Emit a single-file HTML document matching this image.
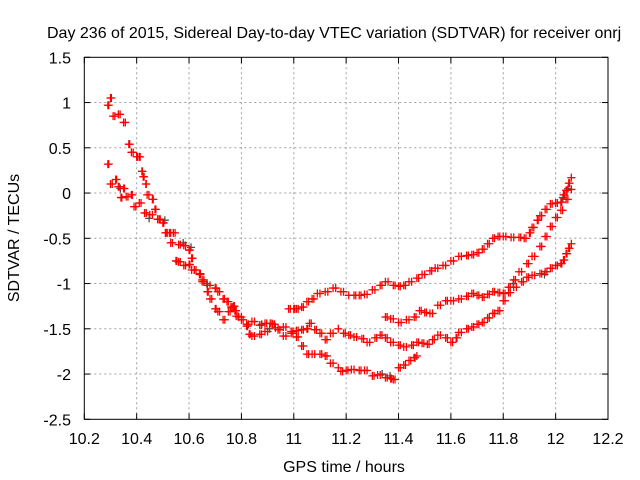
<!DOCTYPE html>
<html><head><meta charset="utf-8"><style>
html,body{margin:0;padding:0;background:#fff;width:640px;height:480px;overflow:hidden}
svg{display:block;font-family:"Liberation Sans",sans-serif}
</style></head><body>
<svg id="chart" width="640" height="480">
<text x="47" y="38" font-size="16">Day 236 of 2015, Sidereal Day-to-day VTEC variation (SDTVAR) for receiver onrj</text>
<text transform="translate(19,238) rotate(-90)" text-anchor="middle" font-size="16">SDTVAR / TECUs</text>
<text x="344" y="472" text-anchor="middle" font-size="16">GPS time / hours</text>
<g id="grid"></g>
<g id="ticks"></g>
<g id="marks"></g>
<rect x="84.3" y="57.3" width="523.7" height="362" fill="none" stroke="#000" stroke-width="1"/>
</svg>
<script>
const xTicks=[10.2,10.4,10.6,10.8,11,11.2,11.4,11.6,11.8,12,12.2];
const xTickLabels=["10.2","10.4","10.6","10.8","11","11.2","11.4","11.6","11.8","12","12.2"];
const yTicks=[1.5,1,0.5,0,-0.5,-1,-1.5,-2,-2.5];
const yTickLabels=["1.5","1","0.5","0","-0.5","-1","-1.5","-2","-2.5"];
const trackAx=[10.29,10.30,10.31,10.33,10.35,10.37,10.38,10.40,10.41,10.42,10.425,10.435,10.44,10.46,10.47,10.48,10.5,10.51,10.525,10.54,10.56,10.58,10.6,10.61,10.62,10.64,10.65,10.67,10.7,10.71,10.73,10.745,10.76,10.775,10.79,10.82,10.84,10.87,10.89,10.91,10.93,10.96,10.99,11.01,11.03,11.05,11.07,11.1,11.12,11.14,11.17];
const trackAy=[0.97,1.05,0.85,0.87,0.78,0.54,0.45,0.4,0.4,0.24,0.18,0.1,-0.02,-0.07,-0.18,-0.29,-0.33,-0.44,-0.44,-0.44,-0.57,-0.58,-0.63,-0.72,-0.85,-0.89,-0.96,-1.02,-1.05,-1.09,-1.17,-1.2,-1.26,-1.3,-1.37,-1.45,-1.42,-1.46,-1.44,-1.44,-1.49,-1.48,-1.55,-1.59,-1.69,-1.78,-1.78,-1.78,-1.8,-1.88,-1.93];
const trackBx=[10.29,10.3,10.32,10.33,10.34,10.35,10.36,10.38,10.39,10.41,10.43,10.45,10.48,10.51,10.53,10.55,10.56,10.58,10.6,10.61,10.64,10.65,10.67,10.68,10.7,10.71,10.73,10.75,10.77,10.78,10.8,10.82,10.83,10.84,10.87,10.89,10.92,10.94,10.96,10.99,11.01,11.03,11.05,11.06,11.08,11.1,11.12,11.14,11.17];
const trackBy=[0.32,0.1,0.15,0.07,-0.05,0.05,-0.04,-0.02,-0.15,-0.11,-0.22,-0.24,-0.29,-0.44,-0.55,-0.75,-0.76,-0.8,-0.79,-0.85,-0.9,-0.98,-1.09,-1.17,-1.28,-1.31,-1.4,-1.31,-1.25,-1.36,-1.4,-1.47,-1.56,-1.58,-1.56,-1.53,-1.45,-1.51,-1.58,-1.53,-1.52,-1.51,-1.5,-1.44,-1.51,-1.55,-1.62,-1.55,-1.5];
const trackCx=[10.98,11.0,11.01,11.03,11.05,11.07,11.09,11.12,11.15,11.18,11.21];
const trackCy=[-1.28,-1.28,-1.28,-1.26,-1.2,-1.17,-1.11,-1.09,-1.05,-1.09,-1.13];
const t1x=[11.23,11.25,11.27,11.3,11.33,11.35,11.38,11.4,11.42,11.44,11.47,11.49,11.52,11.54,11.57,11.6,11.63,11.66,11.68,11.7,11.72,11.74,11.76,11.78,11.8,11.83,11.86,11.88,11.9,11.91,11.93,11.94,11.96,11.98,12.0,12.02,12.03,12.04,12.05,12.06];
const t1y=[-1.13,-1.13,-1.12,-1.07,-1.02,-0.98,-1.02,-1.03,-1.02,-0.98,-0.94,-0.9,-0.86,-0.83,-0.8,-0.75,-0.7,-0.69,-0.68,-0.66,-0.62,-0.56,-0.5,-0.48,-0.48,-0.49,-0.49,-0.5,-0.44,-0.38,-0.3,-0.25,-0.18,-0.12,-0.11,-0.1,-0.02,0.03,0.11,0.17];
const t2x=[11.35,11.37,11.4,11.43,11.46,11.48,11.5,11.52,11.55,11.58,11.6,11.63,11.66,11.68,11.7,11.72,11.74,11.76,11.78,11.8,11.82,11.84,11.86,11.89,11.91,11.94,11.96,11.98,12.0,12.02,12.04,12.06];
const t2y=[-1.37,-1.39,-1.43,-1.4,-1.37,-1.3,-1.32,-1.33,-1.24,-1.19,-1.19,-1.17,-1.14,-1.11,-1.13,-1.15,-1.12,-1.09,-1.1,-1.11,-1.04,-0.96,-0.87,-0.78,-0.7,-0.59,-0.48,-0.37,-0.27,-0.19,-0.07,0.04];
const t3x=[11.19,11.21,11.23,11.26,11.28,11.31,11.33,11.35,11.37,11.4,11.42,11.45,11.47,11.49,11.51,11.53,11.55,11.58,11.6,11.62,11.63,11.66,11.68,11.7,11.72,11.74,11.76,11.78,11.8,11.82,11.84,11.87,11.89,11.91,11.94,11.96,11.98,12.0,12.02,12.03,12.04,12.05,12.06];
const t3y=[-1.55,-1.57,-1.59,-1.61,-1.65,-1.6,-1.57,-1.6,-1.65,-1.68,-1.7,-1.68,-1.65,-1.66,-1.67,-1.62,-1.57,-1.6,-1.65,-1.6,-1.54,-1.5,-1.48,-1.45,-1.43,-1.38,-1.33,-1.3,-1.19,-1.1,-1.04,-0.98,-0.93,-0.91,-0.89,-0.87,-0.83,-0.8,-0.78,-0.74,-0.67,-0.61,-0.56];
const t4x=[11.18,11.2,11.22,11.25,11.27,11.3,11.32,11.35,11.37,11.38,11.4,11.42,11.44,11.46,11.47];
const t4y=[-1.97,-1.96,-1.95,-1.96,-1.96,-2.02,-2.01,-2.04,-2.05,-2.06,-1.93,-1.9,-1.85,-1.82,-1.8];
const grayX=[10.33,10.44,10.5,10.57,10.6,10.66,10.87,10.9,11.33,11.36,11.83,11.95,12.02,12.04];
const grayY=[0.05,-0.28,-0.3,-0.55,-0.6,-1.0,-1.45,-1.5,-2.0,-2.02,-1.0,-0.9,-0.05,0.05];

const X0=84.3,X1=608,Y0=419.3,Y1=57.3;
const sx=v=>X0+(v-10.2)/(12.2-10.2)*(X1-X0);
const sy=v=>Y0-(v-(-2.5))/(1.5-(-2.5))*(Y0-Y1);
const NS="http://www.w3.org/2000/svg";
const grid=document.getElementById('grid'),ticks=document.getElementById('ticks'),marks=document.getElementById('marks');
function line(p,x1,y1,x2,y2,st,dash){const l=document.createElementNS(NS,'line');l.setAttribute('x1',x1);l.setAttribute('y1',y1);l.setAttribute('x2',x2);l.setAttribute('y2',y2);l.setAttribute('stroke',st);l.setAttribute('stroke-width',1);if(dash)l.setAttribute('stroke-dasharray',dash);p.appendChild(l);return l;}
function txt(x,y,s,anchor){const t=document.createElementNS(NS,'text');t.setAttribute('x',x);t.setAttribute('y',y);t.setAttribute('font-size','16');t.setAttribute('text-anchor',anchor);t.textContent=s;document.getElementById('chart').appendChild(t);return t;}
xTicks.forEach((v,i)=>{const x=sx(v);
 if(i>0&&i<xTicks.length-1){const g=line(grid,x,Y1,x,Y0,'#a0a0a0','2,3');
 
 }
 line(ticks,x,Y0,x,Y0-6,'#000');line(ticks,x,Y1,x,Y1+6,'#000');
 const t=txt(x,444,xTickLabels[i],'middle');
 
 });
yTicks.forEach((v,i)=>{const y=sy(v);
 if(i>0&&i<yTicks.length-1){const g=line(grid,X0,y,X1,y,'#a0a0a0','2,3');
 
 }
 line(ticks,X0,y,X0+6,y,'#000');line(ticks,X1,y,X1-6,y,'#000');
 const t=txt(71,y+6,yTickLabels[i],'end');
 
 });
function plus(x,y,col,name){const p=document.createElementNS(NS,'path');
 p.setAttribute('d',`M${x-4},${y}H${x+4}M${x},${y-4}V${y+4}`);p.setAttribute('stroke',col);p.setAttribute('stroke-width','1.3');p.setAttribute('fill','none');
 
 
 marks.appendChild(p);}
grayX.forEach((v,i)=>plus(sx(v)+2,sy(grayY[i]),'#505050','gray-point'));
[[trackAx,trackAy],[trackBx,trackBy],[trackCx,trackCy],[t1x,t1y],[t2x,t2y],[t3x,t3y],[t4x,t4y]].forEach(([xs,ys])=>{
 xs.forEach((v,i)=>{plus(sx(v),sy(ys[i]),'#ff0000','sdtvar-point');
  if(i<xs.length-1){plus(sx((v*2+xs[i+1])/3),sy(ys[i]),'#ff0000','sdtvar-point');}});});
</script>
</body></html>
